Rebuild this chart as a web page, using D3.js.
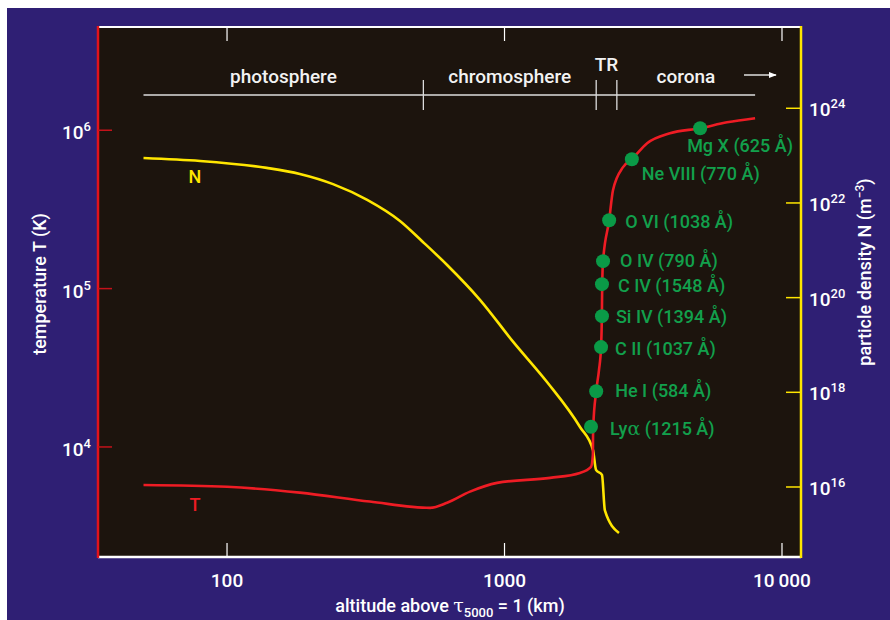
<!DOCTYPE html>
<html>
<head>
<meta charset="utf-8">
<script src="https://cdn.jsdelivr.net/npm/d3@7.9.0/dist/d3.min.js"></script>
<style>
  body { margin: 0; background: #fff; }
  svg text { font-family: "Roboto", "Liberation Sans", sans-serif; font-weight: 500; }
</style>
</head>
<body>
<svg id="chart" width="890" height="620"></svg>
<script>
// temperature profile T(h)
const heightT = [50, 100, 183, 327, 540, 621, 751, 940, 1460, 1870, 2050, 2082, 2084, 2088, 2140, 2190, 2228, 2243, 2250, 2265, 2383, 2460, 2674, 2877, 3266, 3946, 5070, 6340, 8000];
const tempT = [5750, 5600, 5150, 4520, 4125, 4440, 5220, 5930, 6380, 6850, 7480, 8900, 11000, 13400, 22500, 30600, 42700, 67000, 107000, 149000, 270000, 418000, 585000, 656000, 828000, 957000, 1030000, 1122000, 1190000];

// particle density profile N(h)
const heightN = [50, 80, 139, 183, 241, 320, 420, 508, 621, 817, 1075, 1423, 1871, 2084, 2137, 2245, 2300, 2585];
const densN = [8.9e22, 7.7e22, 5.5e22, 4.1e22, 2.5e22, 1.16e22, 4.16e21, 1.5e21, 4.9e20, 8.9e19, 1.16e19, 1.65e18, 1.85e17, 6.0e16, 2.3e16, 1.8e16, 3.2e15, 1.07e15];

// emission lines on the T curve
const ionNames = ['Ly|\u03b1| (1215 \u00c5)', 'He I (584 \u00c5)', 'C II (1037 \u00c5)', 'Si IV (1394 \u00c5)', 'C IV (1548 \u00c5)', 'O IV (790 \u00c5)', 'O VI (1038 \u00c5)', 'Ne VIII (770 \u00c5)', 'Mg X (625 \u00c5)'];
const ionHeight = [2050, 2140, 2228, 2245, 2245, 2265, 2383, 2877, 5070];
const ionTemp = [13400, 22500, 42700, 67000, 106700, 149000, 270000, 656000, 1030000];

// atmosphere regions
const regionNames = ['photosphere', 'chromosphere', 'TR', 'corona'];
const regionBounds = [50, 510, 2140, 2540, 8000];

const xTicks = [100, 1000, 10000];
const xTickLabels = ['100', '1000', '10\u2009000'];
const tTicks = [1e4, 1e5, 1e6];
const tTickExp = ['4', '5', '6'];
const nTicks = [1e16, 1e18, 1e20, 1e22, 1e24];
const nTickExp = ['16', '18', '20', '22', '24'];

const W = 890, H = 620;
const L = 98, R = 801, T = 27, B = 557;

const svg = d3.select('#chart');

const x = d3.scaleLog().domain([Math.pow(10, 1.535), Math.pow(10, 4.0685)]).range([L, R]);
const yT = d3.scaleLog().domain([Math.pow(10, 3.305), Math.pow(10, 6.652)]).range([B, T]);
const yN = d3.scaleLog().domain([Math.pow(10, 14.521), Math.pow(10, 25.717)]).range([B, T]);

// backgrounds
svg.append('rect').attr('x', 7).attr('y', 8).attr('width', W - 7).attr('height', H - 8).attr('fill', '#2f1f74');
svg.append('rect').attr('x', L).attr('y', T).attr('width', R - L).attr('height', B - T).attr('fill', '#1c140d');

// frame: top & bottom white
svg.append('line').attr('x1', L).attr('x2', R).attr('y1', T).attr('y2', T).attr('stroke', '#ffffff').attr('stroke-width', 2);
svg.append('line').attr('x1', L).attr('x2', R).attr('y1', B).attr('y2', B).attr('stroke', '#ffffff').attr('stroke-width', 2.5);

// x ticks top and bottom
xTicks.forEach((t, i) => {
  svg.append('line').attr('x1', x(t)).attr('x2', x(t)).attr('y1', B).attr('y2', B - 14).attr('stroke', '#fff').attr('stroke-width', 1.2);
  svg.append('line').attr('x1', x(t)).attr('x2', x(t)).attr('y1', T).attr('y2', T + 14).attr('stroke', '#fff').attr('stroke-width', 1.2);
  svg.append('text').attr('x', x(t)).attr('y', 587).attr('text-anchor', 'middle')
    .attr('fill', '#fff').attr('font-size', 19).text(xTickLabels[i]);
});

// left red axis, right yellow axis
svg.append('line').attr('x1', L).attr('x2', L).attr('y1', T - 1).attr('y2', B + 1).attr('stroke', '#e3131b').attr('stroke-width', 2.5);
svg.append('line').attr('x1', R).attr('x2', R).attr('y1', T - 1).attr('y2', B + 1).attr('stroke', '#ffe600').attr('stroke-width', 2.5);

// left axis ticks (temperature)
tTicks.forEach((t, i) => {
  svg.append('line').attr('x1', L).attr('x2', L + 14).attr('y1', yT(t)).attr('y2', yT(t)).attr('stroke', '#c4121a').attr('stroke-width', 1.5);
  const lab = svg.append('text').attr('x', 91).attr('y', yT(t) + 9).attr('text-anchor', 'end')
    .attr('fill', '#fff').attr('font-size', 19);
  lab.append('tspan').text('10');
  lab.append('tspan').attr('dy', -8).attr('font-size', 13).text(tTickExp[i]);
});

// right axis ticks (density)
nTicks.forEach((t, i) => {
  svg.append('line').attr('x1', R - 15).attr('x2', R).attr('y1', yN(t)).attr('y2', yN(t)).attr('stroke', '#ffe600').attr('stroke-width', 1.5);
  const lab = svg.append('text').attr('x', 809).attr('y', yN(t) + 8)
    .attr('fill', '#fff').attr('font-size', 19);
  lab.append('tspan').text('10');
  lab.append('tspan').attr('dy', -8).attr('font-size', 13).text(nTickExp[i]);
});

// axis titles
svg.append('text').attr('transform', 'translate(46,284) rotate(-90)').attr('text-anchor', 'middle')
  .attr('fill', '#fff').attr('font-size', 18).text('temperature T (K)');

const rt = svg.append('text').attr('transform', 'translate(871,272) rotate(-90)').attr('text-anchor', 'middle')
  .attr('fill', '#fff').attr('font-size', 18);
rt.append('tspan').text('particle density N (m');
rt.append('tspan').attr('dy', -7).attr('font-size', 12).text('\u22123');
rt.append('tspan').attr('dy', 7).text(')');

const bt = svg.append('text').attr('x', 450).attr('y', 612).attr('text-anchor', 'middle')
  .attr('fill', '#fff').attr('font-size', 18);
bt.append('tspan').text('altitude above ');
bt.append('tspan').attr('font-family', 'DejaVu Serif').attr('font-weight', 'normal').attr('font-size', 19).text('\u03c4');
bt.append('tspan').attr('dy', 5).attr('font-size', 13).text('5000');
bt.append('tspan').attr('dy', -5).text(' = 1 (km)');

// region bar
const barY = 95;
svg.append('line').attr('x1', x(regionBounds[0])).attr('x2', x(regionBounds[regionBounds.length - 1]))
  .attr('y1', barY).attr('y2', barY).attr('stroke', '#dcdcdc').attr('stroke-width', 1.3);
regionBounds.slice(1, -1).forEach(b => {
  svg.append('line').attr('x1', x(b)).attr('x2', x(b)).attr('y1', barY - 15).attr('y2', barY + 15)
    .attr('stroke', '#dcdcdc').attr('stroke-width', 1.3);
});
regionNames.forEach((name, i) => {
  const mid = Math.sqrt(regionBounds[i] * regionBounds[i + 1]);
  svg.append('text').attr('x', x(mid)).attr('y', name === 'TR' ? 71 : 83).attr('text-anchor', 'middle')
    .attr('fill', '#f2f2f2').attr('font-size', 19).text(name);
});
svg.append('defs').append('marker').attr('id', 'ah').attr('viewBox', '0 0 10 10').attr('refX', 9).attr('refY', 5)
  .attr('markerWidth', 8).attr('markerHeight', 8).attr('markerUnits', 'userSpaceOnUse').attr('orient', 'auto')
  .append('path').attr('d', 'M0,1 L10,5 L0,9 Z').attr('fill', '#fff');
svg.append('line').attr('x1', 744).attr('x2', 776).attr('y1', 75).attr('y2', 75)
  .attr('stroke', '#fff').attr('stroke-width', 1.3).attr('marker-end', 'url(#ah)');

// curves
const lineN = d3.line().x(d => x(d[0])).y(d => yN(d[1])).curve(d3.curveMonotoneX);
const lineT = d3.line().x(d => x(d[0])).y(d => yT(d[1])).curve(d3.curveMonotoneX);

svg.append('path').attr('d', lineN(d3.zip(heightN, densN))).attr('fill', 'none')
  .attr('stroke', '#ffe600').attr('stroke-width', 2.6).attr('stroke-linejoin', 'round');
svg.append('path').attr('d', lineT(d3.zip(heightT, tempT))).attr('fill', 'none')
  .attr('stroke', '#ee1c24').attr('stroke-width', 2.6).attr('stroke-linejoin', 'round');

svg.append('text').attr('x', 195).attr('y', 183).attr('text-anchor', 'middle').attr('fill', '#ffe600')
  .attr('font-size', 18).text('N');
svg.append('text').attr('x', 195).attr('y', 511).attr('text-anchor', 'middle').attr('fill', '#ee1c24')
  .attr('font-size', 18).text('T');

// ion dots + labels ("|" marks a Greek glyph set in a serif face)
const labelOffset = [[19, 8], [19, 6], [14, 8], [14, 7], [16, 8], [17, 6], [16, 8], [10, 21], [-13, 24]];
ionNames.forEach((name, i) => {
  const cx = x(ionHeight[i]), cy = yT(ionTemp[i]);
  svg.append('circle').attr('cx', cx).attr('cy', cy).attr('r', 7).attr('fill', '#0a9a47');
  const lab = svg.append('text').attr('x', cx + labelOffset[i][0]).attr('y', cy + labelOffset[i][1])
    .attr('fill', '#12a04c').attr('font-size', 18).attr('font-weight', 'bold');
  name.split('|').forEach((part, k) => {
    const sp = lab.append('tspan').text(part);
    if (k % 2 === 1) sp.attr('font-family', 'DejaVu Serif').attr('font-weight', 'normal').attr('font-size', 19);
  });
});
</script>
</body>
</html>
